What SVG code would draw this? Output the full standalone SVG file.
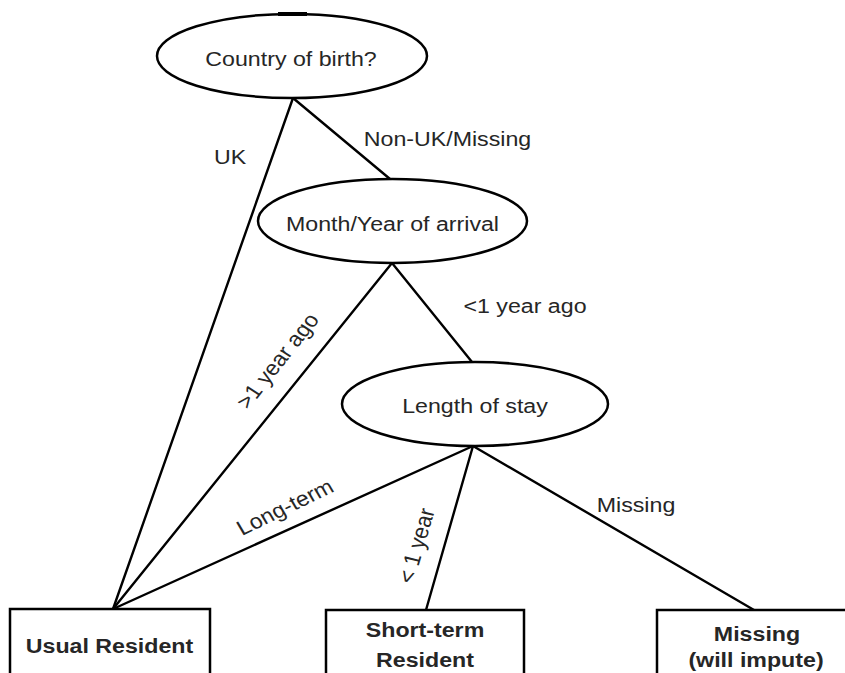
<svg xmlns="http://www.w3.org/2000/svg" width="845" height="673" viewBox="0 0 845 673">
<style>
  .node { fill: #ffffff; stroke: #000000; stroke-width: 2.5; }
  .edge { stroke: #000000; stroke-width: 2.4; fill: none; stroke-linecap: round; }
  .t { font-family: "Liberation Sans", Arial, sans-serif; font-size: 21px; fill: #262626; text-anchor: middle; }
  .b { font-weight: bold; }
</style>
<rect x="0" y="0" width="845" height="673" fill="#ffffff"/>
<g id="connectors">
  <line class="edge" x1="293" y1="98" x2="113" y2="609"/>
  <line class="edge" x1="293" y1="98" x2="390" y2="179"/>
  <line class="edge" x1="392" y1="263" x2="113" y2="609"/>
  <line class="edge" x1="392" y1="263" x2="472" y2="362"/>
  <line class="edge" x1="473" y1="446" x2="113" y2="609"/>
  <line class="edge" x1="473" y1="446" x2="426" y2="610"/>
  <line class="edge" x1="473" y1="446" x2="754" y2="610"/>
  <text class="t" transform="translate(230,164) scale(1.105,1)">UK</text>
  <text class="t" transform="translate(447.5,146) scale(1.105,1)">Non-UK/Missing</text>
  <text class="t" transform="translate(284,365) scale(1.105,1) rotate(-54.2)">&gt;1 year ago</text>
  <text class="t" transform="translate(525,313) scale(1.105,1)">&lt;1 year ago</text>
  <text class="t" transform="translate(288.7,513.5) scale(1.105,1) rotate(-28.0)">Long-term</text>
  <text class="t" transform="translate(424,547.5) scale(1.105,1) rotate(-75.0)">&lt; 1 year</text>
  <text class="t" transform="translate(636,512) scale(1.105,1)">Missing</text>
</g>
<g id="country-of-birth">
  <ellipse class="node" cx="292" cy="56" rx="135" ry="42"/>
  <rect x="278" y="12" width="29" height="4" fill="#000000"/>
  <text class="t" transform="translate(291,66) scale(1.105,1)">Country of birth?</text>
</g>
<g id="month-year-arrival">
  <ellipse class="node" cx="392.5" cy="221" rx="134.5" ry="42"/>
  <text class="t" transform="translate(392.5,231) scale(1.105,1)">Month/Year of arrival</text>
</g>
<g id="length-of-stay">
  <ellipse class="node" cx="475" cy="404" rx="133" ry="42"/>
  <text class="t" transform="translate(475,413) scale(1.105,1)">Length of stay</text>
</g>
<g id="usual-resident">
  <rect class="node" x="10" y="609" width="200" height="90"/>
  <text class="t b" transform="translate(109.5,653) scale(1.105,1)">Usual Resident</text>
</g>
<g id="short-term-resident">
  <rect class="node" x="326" y="610" width="198" height="90"/>
  <text class="t b" transform="translate(425,637) scale(1.105,1)">Short-term</text>
  <text class="t b" transform="translate(425,667) scale(1.105,1)">Resident</text>
</g>
<g id="missing-impute">
  <rect class="node" x="657" y="610" width="210" height="90"/>
  <text class="t b" transform="translate(757,641) scale(1.105,1)">Missing</text>
  <text class="t b" transform="translate(756,667) scale(1.105,1)">(will impute)</text>
</g>
</svg>
